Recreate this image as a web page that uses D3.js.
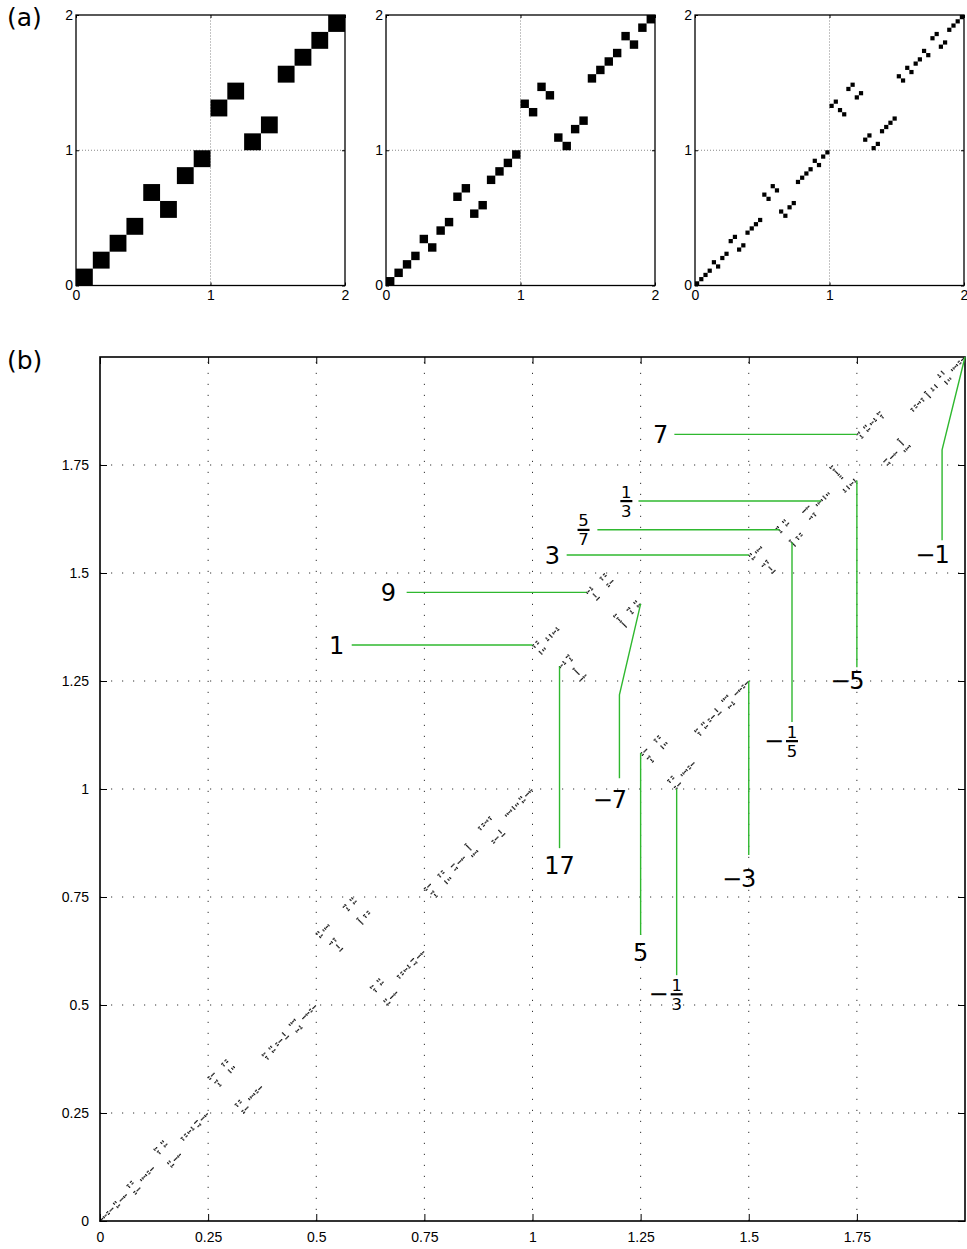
<!DOCTYPE html>
<html>
<head>
<meta charset="utf-8">
<script src="https://cdn.jsdelivr.net/npm/d3@7"></script>
<style>
  body { margin: 0; background: #fff; }
  svg { display: block; }
</style>
</head>
<body>
<svg width="967" height="1249"></svg>
<script>
// panel (a): row of the black cell in each column
const cellsA1 = [0,1,2,3,5,4,6,7,10,11,8,9,12,13,14,15];
const cellsA2 = [0,1,2,3,5,4,6,7,10,11,8,9,12,13,14,15,
                 21,20,23,22,17,16,18,19,24,25,26,27,29,28,30,31];
// finer levels (third panel and (b)) come from the 3x+1 parity map mod 2^n
const levelA3 = 6;
const levelB = 10;

const ticksA = [0, 1, 2];
const gridA = [1];
const ticksB = [0, 0.25, 0.5, 0.75, 1, 1.25, 1.5, 1.75];
const gridB = [0.25, 0.5, 0.75, 1, 1.25, 1.5, 1.75];

// labelled 2-adic numbers, as numerator / denominator
const annText = ["7", "1/3", "5/7", "3", "9", "1", "−1", "−5", "−1/5", "−3", "−7", "17", "5", "−1/3"];
const annNum  = [7, 1, 5, 3, 9, 1, -1, -5, -1, -3, -7, 17, 5, -1];
const annDen  = [1, 3, 7, 1, 1, 1, 1, 1, 5, 1, 1, 1, 1, 3];

// where each label sits (data units of panel b)
const annLayout = [
  {h: true, start: 1.328, tx: 1.296},
  {h: true, start: 1.245, tx: 1.217},
  {h: true, start: 1.150, tx: 1.118},
  {h: true, start: 1.079, tx: 1.046},
  {h: true, start: 0.709, tx: 0.667},
  {h: true, start: 0.582, tx: 0.547},
  {h: false, start: 1.576, ty: 1.542, lx: 1.947, bend: 1.785},
  {h: false, start: 1.282, ty: 1.252},
  {h: false, start: 1.155, ty: 1.111},
  {h: false, start: 0.847, ty: 0.794},
  {h: false, start: 1.025, ty: 0.975, lx: 1.201, bend: 1.218},
  {h: false, start: 0.863, ty: 0.824},
  {h: false, start: 0.662, ty: 0.623},
  {h: false, start: 0.569, ty: 0.525}
];

const fontTick = "'Liberation Sans', Arial, sans-serif";
const fontLab = "'DejaVu Sans', sans-serif";
const green = "#2fb82f";

// 2-adic digits of p/q (q odd)
function digits2(p, q, n) {
  const d = [];
  for (let i = 0; i < n; i++) {
    const b = ((p % 2) + 2) % 2;
    d.push(b);
    p = (p - b * q) / 2;
  }
  return d;
}
// parity vector of p/q under T(x) = x/2 or (3x+1)/2
function parity2(p, q, n) {
  const d = [];
  for (let i = 0; i < n; i++) {
    const b = ((p % 2) + 2) % 2;
    d.push(b);
    p = b ? (3 * p + q) / 2 : p / 2;
  }
  return d;
}
const phi = d => d.reduce((s, b, i) => s + b * Math.pow(2, -i), 0);

function levelCells(n) {
  const out = [];
  for (let r = 0; r < Math.pow(2, n); r++) {
    out.push({x: phi(digits2(r, 1, n)), y: phi(parity2(r, 1, n))});
  }
  return out;
}

const svg = d3.select("svg");

function frame(g, x, y, ticks, opt) {
  const y0 = y.range()[0], y1 = y.range()[1], x0 = x.range()[0], x1 = x.range()[1];
  g.append("g").attr("transform", `translate(0,${y0})`)
    .call(d3.axisBottom(x).tickValues(ticks).tickFormat(d => String(d))
      .tickSizeInner(-opt.tick).tickSizeOuter(0).tickPadding(opt.padX));
  g.append("g").attr("transform", `translate(${x0},0)`)
    .call(d3.axisLeft(y).tickValues(opt.yTicks || ticks).tickFormat(d => String(d))
      .tickSizeInner(-opt.tick).tickSizeOuter(0).tickPadding(opt.padY));
  g.append("g").attr("transform", `translate(0,${y1})`)
    .call(d3.axisTop(x).tickValues(ticks).tickFormat("").tickSizeInner(-opt.tick).tickSizeOuter(0));
  g.append("g").attr("transform", `translate(${x1},0)`)
    .call(d3.axisRight(y).tickValues(ticks).tickFormat("").tickSizeInner(-opt.tick).tickSizeOuter(0));
  g.selectAll(".domain").remove();
  g.selectAll(".tick line").attr("stroke", "#000");
  g.selectAll(".tick text").attr("font-family", fontTick).attr("font-size", opt.fs).attr("fill", "#000");
  g.append("rect")
    .attr("x", x0).attr("y", y1).attr("width", x1 - x0).attr("height", y0 - y1)
    .attr("fill", "none").attr("stroke", "#000").attr("stroke-width", opt.sw);
}

// ---------- panel (a) ----------
const panelsA = [
  {left: 76, cells: cellsA1.map((row, c) => ({x: c * 2 / cellsA1.length, y: row * 2 / cellsA1.length})), w: 2 / cellsA1.length},
  {left: 386, cells: cellsA2.map((row, c) => ({x: c * 2 / cellsA2.length, y: row * 2 / cellsA2.length})), w: 2 / cellsA2.length},
  {left: 695, cells: levelCells(levelA3), w: Math.pow(2, 1 - levelA3)}
];

panelsA.forEach(p => {
  const x = d3.scaleLinear().domain([0, 2]).range([p.left, p.left + 269]);
  const y = d3.scaleLinear().domain([0, 2]).range([285.5, 15]);
  const g = svg.append("g");
  gridA.forEach(v => {
    g.append("line").attr("x1", x(v)).attr("x2", x(v)).attr("y1", y(0)).attr("y2", y(2))
      .attr("stroke", "#888").attr("stroke-dasharray", "1,2");
    g.append("line").attr("x1", x(0)).attr("x2", x(2)).attr("y1", y(v)).attr("y2", y(v))
      .attr("stroke", "#888").attr("stroke-dasharray", "1,2");
  });
  g.selectAll("rect.cell").data(p.cells).enter().append("rect")
    .attr("class", "cell")
    .attr("x", d => x(d.x)).attr("y", d => y(d.y + p.w))
    .attr("width", x(p.w) - x(0)).attr("height", y(0) - y(p.w))
    .attr("fill", "#000");
  frame(g, x, y, ticksA, {tick: 3, padX: 5, padY: 3, fs: 14, sw: 1.3});
});

svg.append("text").attr("x", 7).attr("y", 26).attr("font-family", fontLab).attr("font-size", 25).text("(a)");

// ---------- panel (b) ----------
const xb = d3.scaleLinear().domain([0, 2]).range([100, 965]);
const yb = d3.scaleLinear().domain([0, 2]).range([1221, 357]);
const gb = svg.append("g");

gridB.forEach(v => {
  gb.append("line").attr("x1", xb(v)).attr("x2", xb(v)).attr("y1", yb(0)).attr("y2", yb(2))
    .attr("stroke", "#333").attr("stroke-dasharray", "1.2,9.8");
  gb.append("line").attr("x1", xb(0)).attr("x2", xb(2)).attr("y1", yb(v)).attr("y2", yb(v))
    .attr("stroke", "#333").attr("stroke-dasharray", "1.2,9.8");
});

const cloud = levelCells(levelB);
gb.selectAll("rect.pt").data(cloud).enter().append("rect")
  .attr("class", "pt")
  .attr("x", d => xb(d.x) - 0.6).attr("y", d => yb(d.y) - 0.6)
  .attr("width", 1.3).attr("height", 1.3)
  .attr("fill", "#222");

frame(gb, xb, yb, ticksB, {tick: 7, padX: 11, padY: 11, fs: 14, sw: 1.6});

svg.append("text").attr("x", 7).attr("y", 369).attr("font-family", fontLab).attr("font-size", 25).text("(b)");

// ---------- annotations ----------
const line = d3.line().x(d => xb(d[0])).y(d => yb(d[1]));
const ga = svg.append("g");

function drawNumber(cx, cy, t) {
  // digits centred on cx, minus sign hanging to the left
  const neg = t[0] === "−";
  const body = neg ? t.slice(1) : t;
  if (body.includes("/")) {
    const [num, den] = body.split("/");
    ga.append("text").attr("x", cx).attr("y", cy - 3.5).attr("text-anchor", "middle")
      .attr("font-family", fontLab).attr("font-size", 16.5).text(num);
    ga.append("rect").attr("x", cx - 6).attr("y", cy - 1).attr("width", 12).attr("height", 2.2).attr("fill", "#000");
    ga.append("text").attr("x", cx).attr("y", cy + 15.5).attr("text-anchor", "middle")
      .attr("font-family", fontLab).attr("font-size", 16.5).text(den);
    if (neg) {
      ga.append("text").attr("x", cx - 8).attr("y", cy + 7.5).attr("text-anchor", "end")
        .attr("font-family", fontLab).attr("font-size", 24).text("−");
    }
  } else {
    const txt = ga.append("text").attr("x", cx).attr("y", cy).attr("dy", "0.36em").attr("text-anchor", "middle")
      .attr("font-family", fontLab).attr("font-size", 24).text(body);
    if (neg) {
      const w = txt.node().getComputedTextLength();
      ga.append("text").attr("x", cx - w / 2 + 1).attr("y", cy).attr("dy", "0.36em").attr("text-anchor", "end")
        .attr("font-family", fontLab).attr("font-size", 24).text("−");
    }
  }
}

annText.forEach((t, i) => {
  const P = [phi(digits2(annNum[i], annDen[i], 48)), phi(parity2(annNum[i], annDen[i], 48))];
  const L = annLayout[i];
  let pts;
  if (L.h) {
    pts = [[L.start, P[1]], P];
  } else {
    const lx = L.lx != null ? L.lx : P[0];
    pts = [[lx, L.start]];
    if (L.bend != null) pts.push([lx, L.bend]);
    pts.push(P);
  }
  ga.append("path").attr("d", line(pts)).attr("fill", "none").attr("stroke", green).attr("stroke-width", 1.4);
  if (L.h) {
    drawNumber(xb(L.tx), yb(P[1]), t);
  } else {
    const lx = L.lx != null ? L.lx : P[0];
    drawNumber(xb(lx), yb(L.ty), t);
  }
});
</script>
</body>
</html>
